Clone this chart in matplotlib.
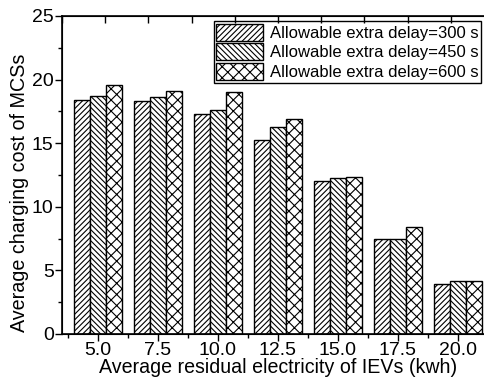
import matplotlib
matplotlib.use('Agg')
import matplotlib.pyplot as plt
import numpy as np
from matplotlib.ticker import MultipleLocator, FixedLocator

plt.rcParams['font.family'] = ['Liberation Sans', 'DejaVu Sans']
plt.rcParams['hatch.linewidth'] = 0.8

# data
residual = [5.0, 7.5, 10.0, 12.5, 15.0, 17.5, 20.0]
tick_labels = ['5.0', '7.5', '10.0', '12.5', '15.0', '17.5', '20.0']
delay_300 = [18.4, 18.35, 17.3, 15.25, 12.05, 7.5, 3.95]
delay_450 = [18.7, 18.65, 17.6, 16.25, 12.3, 7.5, 4.15]
delay_600 = [19.6, 19.1, 19.0, 16.9, 12.35, 8.45, 4.2]
series_names = ['Allowable extra delay=300 s',
                'Allowable extra delay=450 s',
                'Allowable extra delay=600 s']
hatches = ['//////', '\\\\\\\\\\\\', 'xxx']

fig = plt.figure(figsize=(4.85, 3.81), dpi=100)
# axes runs a bit past the right edge, like the cropped original
ax = fig.add_axes([62/485., 47/381., 432/485., 318/381.])

w = 0.68
x = np.array(residual)
for i, vals in enumerate([delay_300, delay_450, delay_600]):
    ax.bar(x + (i - 1) * w, vals, w, facecolor='white', edgecolor='black',
           linewidth=1.0, hatch=hatches[i], label=series_names[i])

ax.set_xlim(3.5, 21.5)
ax.set_ylim(0, 25)
ax.set_xticks(residual)
ax.set_xticklabels(tick_labels)
ax.xaxis.set_minor_locator(FixedLocator(np.arange(3.75, 21, 2.5)))
ax.yaxis.set_major_locator(MultipleLocator(5))
ax.yaxis.set_minor_locator(MultipleLocator(2.5))
ax.tick_params(which='major', direction='out', length=5, width=1, labelsize=14, pad=1)
ax.tick_params(which='minor', direction='out', length=3, width=1)
ax.tick_params(top=False, right=False, which='both')
for s in ax.spines.values():
    s.set_linewidth(1.2)

# top axis has its own even ticks, pointing inward
top = ax.twiny()
top.set_xlim(0, 10)
top.set_xticks(range(11))
top.set_xticklabels([])
top.tick_params(direction='in', length=5, width=1)
top.spines['right'].set_visible(False)

ax.set_xlabel('Average residual electricity of IEVs (kwh)', fontsize=14.1, labelpad=-1)
fig.text(20/485., 1 - 193/381., 'Average charging cost of MCSs', fontsize=14.2,
         rotation=90, ha='center', va='center')

leg = ax.legend(loc='upper left', bbox_to_anchor=(152/432., 313/318.), fontsize=12,
                frameon=True, fancybox=False, edgecolor='black', framealpha=1,
                handlelength=2.8, handleheight=1.2, handletextpad=0.4,
                borderpad=0.15, labelspacing=0.15, borderaxespad=0)
leg.get_frame().set_linewidth(1.0)

plt.savefig('out.png', dpi=100)
